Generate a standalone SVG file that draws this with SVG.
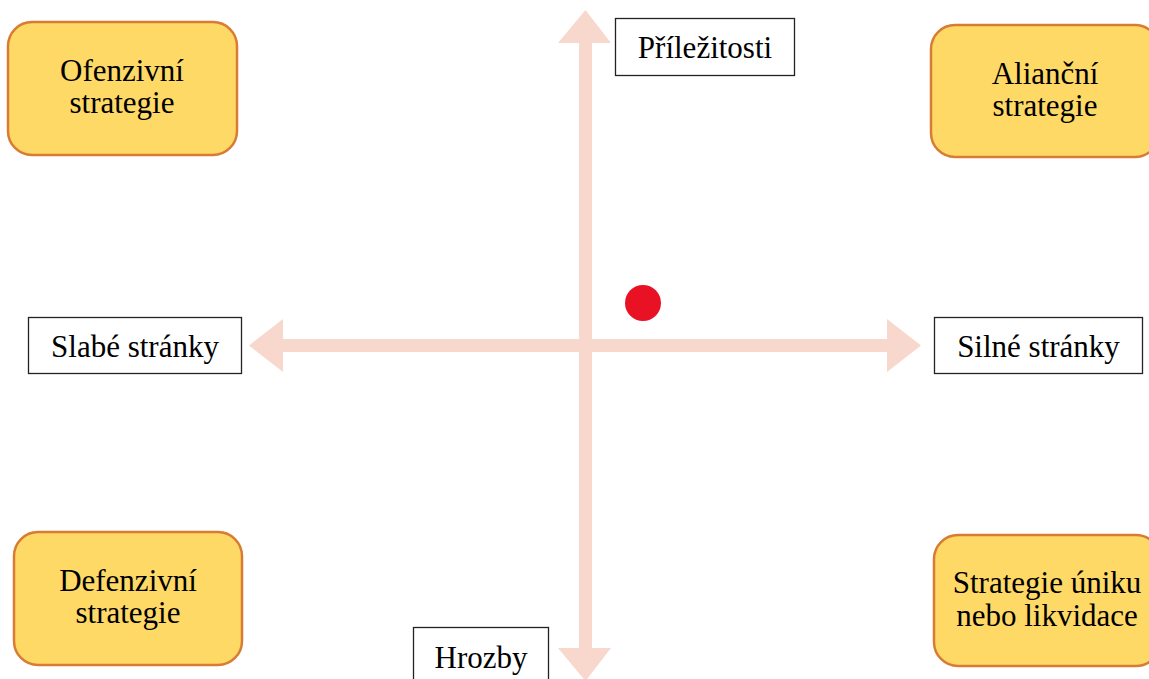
<svg xmlns="http://www.w3.org/2000/svg" width="1149" height="679" viewBox="0 0 1149 679">
<style>
.strat rect{fill:#FFD966;stroke:#D97B33;stroke-width:2.5}
.lbl rect{fill:#FFFFFF;stroke:#222;stroke-width:1.3}
text{font-family:"Liberation Serif","Times New Roman",serif;font-size:31px;fill:#000;text-anchor:middle}
.axis{fill:#F8D7CD}
</style>
<rect width="1149" height="679" fill="#FFFFFF"/>
<g id="connectors">
<polygon class="axis" points="585.5,10 611,43 592,43 592,648 611,648 585.5,681 558,648 579,648 579,43 558,43"/>
<polygon class="axis" points="249,345.5 283,319 283,339 887,339 887,319 921,345.5 887,372 887,352 283,352 283,372"/>
</g>
<g id="ofenzivni" class="strat">
<rect x="8" y="22" width="229" height="133" rx="24"/>
<text x="122" y="81">Ofenzivní</text>
<text x="122" y="113">strategie</text>
</g>
<g id="aliancni" class="strat">
<rect x="931" y="25" width="228" height="132" rx="24"/>
<text x="1045" y="84">Alianční</text>
<text x="1045" y="116">strategie</text>
</g>
<g id="defenzivni" class="strat">
<rect x="14" y="532" width="228" height="133" rx="24"/>
<text x="128" y="591">Defenzivní</text>
<text x="128" y="623">strategie</text>
</g>
<g id="uniku" class="strat">
<rect x="934" y="535" width="226" height="131" rx="24"/>
<text x="1047" y="593">Strategie úniku</text>
<text x="1047" y="626">nebo likvidace</text>
</g>
<g id="prilezitosti" class="lbl">
<rect x="615.5" y="18.5" width="179" height="57"/>
<text x="705" y="58">Příležitosti</text>
</g>
<g id="slabe" class="lbl">
<rect x="28.5" y="317.5" width="213" height="56"/>
<text x="135" y="357">Slabé stránky</text>
</g>
<g id="silne" class="lbl">
<rect x="934.5" y="317.5" width="208" height="56"/>
<text x="1038.5" y="357">Silné stránky</text>
</g>
<g id="hrozby" class="lbl">
<rect x="413.5" y="627.5" width="135" height="60"/>
<text x="481" y="668">Hrozby</text>
</g>
<g id="position">
<circle cx="643" cy="303" r="18" fill="#E81224"/>
</g>
</svg>
